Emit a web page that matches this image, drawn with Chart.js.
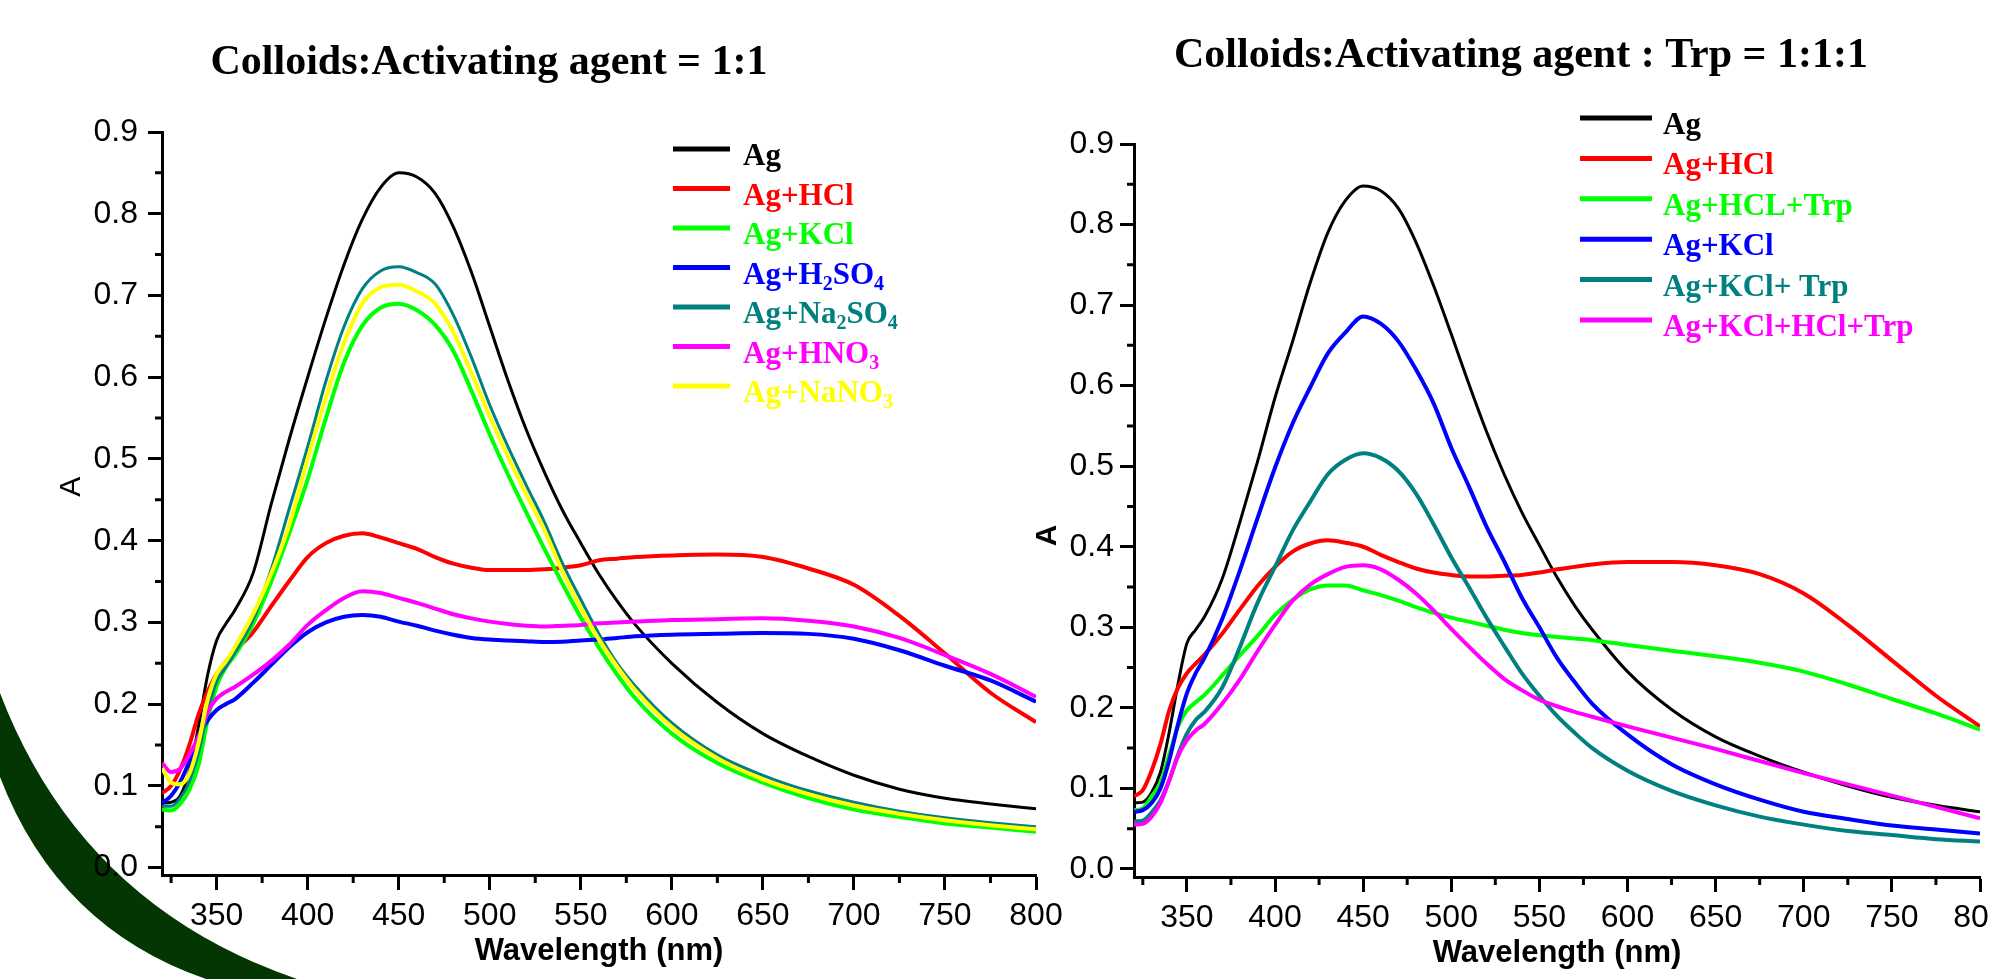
<!DOCTYPE html>
<html>
<head>
<meta charset="utf-8">
<script src="https://cdn.jsdelivr.net/npm/chart.js@4.4.1/dist/chart.umd.min.js"></script>
<style>
  html, body { margin: 0; padding: 0; background: #fff; }
  body { width: 1990px; height: 979px; overflow: hidden; position: relative; }
  #arc { position: absolute; left: 0; top: 0; }
  canvas { position: absolute; top: 0; }
  #left { left: 0; }
  #right { left: 1000px; }
</style>
</head>
<body>
<svg id="arc" width="400" height="979" viewBox="0 0 400 979">
  <path d="M0 693 Q81 905 297 979 L206 979 Q58 928 0 777 Z" fill="#033603"/>
</svg>
<canvas id="left" width="1090" height="979"></canvas>
<canvas id="right" width="1060" height="979"></canvas>
<script>
// wavelengths (nm), shared by both panels
const wavelengths = [320, 325, 330, 335, 340, 345, 350, 355, 360,
  370, 380, 390, 400, 410, 420, 430, 440, 450, 460, 470, 480, 490, 500,
  510, 520, 530, 540, 550, 560, 570, 580,
  600, 625, 650, 675, 700, 725, 750, 775, 800];

const xTicks = [350, 400, 450, 500, 550, 600, 650, 700, 750, 800];
const xMinorTicks = [325, 375, 425, 475, 525, 575, 625, 675, 725, 775];
const yTicks = [0, 0.1, 0.2, 0.3, 0.4, 0.5, 0.6, 0.7, 0.8, 0.9];
const yMinorTicks = [0.05, 0.15, 0.25, 0.35, 0.45, 0.55, 0.65, 0.75, 0.85];

// left panel: Colloids:Activating agent = 1:1
const leftTitle = 'Colloids:Activating agent = 1:1';
const leftLabels = ['Ag', 'Ag+HCl', 'Ag+KCl', 'Ag+H₂SO₄', 'Ag+Na₂SO₄', 'Ag+HNO₃', 'Ag+NaNO₃'];
const leftColors = ['#000000', '#ff0000', '#00ff00', '#0000ff', '#008080', '#ff00ff', '#ffff00'];
const agL = [.079, .080, .088, .118, .172, .235, .278, .298, .315,
  .360, .445, .525, .600, .672, .738, .793, .832, .850, .845, .825, .784, .728, .662,
  .596, .536, .484, .437, .397, .359, .326, .297,
  .250, .202, .164, .136, .113, .096, .085, .078, .072];
const hclL = [.091, .100, .120, .150, .187, .215, .237, .252, .265,
  .288, .320, .351, .380, .397, .406, .409, .404, .397, .390, .380, .372, .367, .364,
  .364, .364, .365, .367, .370, .376, .378, .380,
  .382, .383, .380, .366, .346, .308, .262, .214, .178];
const kclL = [.071, .070, .078, .095, .125, .180, .222, .245, .260,
  .298, .350, .410, .475, .550, .618, .663, .685, .690, .682, .664, .632, .583, .530,
  .481, .435, .390, .347, .306, .269, .236, .207,
  .164, .128, .104, .085, .071, .062, .054, .049, .044];
const h2so4L = [.079, .088, .105, .130, .160, .180, .193, .200, .206,
  .226, .248, .270, .288, .300, .307, .309, .307, .301, .296, .290, .285, .281, .279,
  .278, .277, .276, .2765, .278, .279, .281, .283,
  .285, .286, .287, .286, .280, .266, .247, .229, .203];
const na2so4L = [.075, .075, .085, .105, .140, .190, .228, .245, .263,
  .303, .365, .440, .515, .595, .662, .708, .730, .735, .728, .714, .676, .624, .566,
  .515, .468, .423, .372, .328, .286, .250, .222,
  .177, .138, .113, .094, .080, .069, .061, .055, .050];
const hno3L = [.128, .117, .121, .138, .160, .190, .207, .215, .221,
  .236, .253, .273, .297, .315, .330, .338, .336, .330, .324, .317, .310, .305, .301,
  .298, .296, .295, .296, .297, .299, .300, .301,
  .303, .304, .305, .302, .295, .281, .260, .237, .209];
const nano3L = [.122, .104, .102, .115, .152, .205, .237, .252, .270,
  .310, .360, .420, .500, .575, .642, .690, .710, .713, .705, .690, .655, .605, .552,
  .503, .457, .413, .362, .318, .279, .246, .217,
  .172, .134, .108, .090, .076, .066, .058, .052, .047];

// right panel: Colloids:Activating agent : Trp = 1:1:1
const rightTitle = 'Colloids:Activating agent : Trp = 1:1:1';
const rightLabels = ['Ag', 'Ag+HCl', 'Ag+HCL+Trp', 'Ag+KCl', 'Ag+KCl+ Trp', 'Ag+KCl+HCl+Trp'];
const rightColors = ['#000000', '#ff0000', '#00ff00', '#0000ff', '#008080', '#ff00ff'];
const agR = [.082, .083, .095, .120, .170, .230, .280, .297, .313,
  .360, .430, .505, .585, .655, .728, .790, .830, .848, .842, .820, .778, .724, .664,
  .602, .543, .490, .443, .402, .362, .327, .297,
  .245, .198, .164, .140, .120, .103, .089, .079, .071];
const hclR = [.090, .098, .122, .155, .197, .225, .243, .255, .266,
  .292, .322, .351, .375, .394, .404, .408, .405, .400, .390, .381, .373, .368, .365,
  .363, .363, .364, .365, .368, .372, .375, .378,
  .381, .381, .377, .366, .342, .303, .259, .215, .177];
const hclTrpR = [.073, .075, .090, .107, .142, .177, .197, .207, .216,
  .240, .265, .289, .315, .334, .347, .352, .352, .346, .340, .333, .325, .318, .312,
  .307, .302, .297, .293, .290, .288, .286, .284,
  .278, .271, .264, .256, .245, .229, .211, .193, .173];
const kclR = [.071, .073, .082, .100, .135, .180, .218, .243, .262,
  .310, .370, .435, .498, .553, .598, .640, .666, .686, .677, .655, .620, .578, .523,
  .475, .425, .382, .337, .300, .262, .232, .205,
  .167, .130, .105, .086, .071, .062, .054, .049, .044];
const kclTrpR = [.059, .060, .070, .085, .110, .142, .168, .185, .195,
  .225, .275, .330, .375, .420, .456, .490, .508, .516, .510, .494, .466, .428, .387,
  .350, .312, .277, .243, .215, .190, .169, .150,
  .122, .097, .079, .065, .055, .047, .042, .037, .034];
const mixR = [.055, .056, .065, .082, .110, .140, .160, .172, .180,
  .205, .235, .270, .303, .333, .353, .366, .375, .377, .372, .359, .342, .321, .298,
  .276, .255, .236, .222, .210, .202, .195, .189,
  .177, .163, .149, .134, .119, .105, .091, .077, .063];

const SANS = '"Liberation Sans", Arial, sans-serif';
const SERIF = '"Liberation Serif", "Times New Roman", serif';
const SUBS = '₀₁₂₃₄₅₆₇₈₉';

// draws "Ag+H₂SO₄" with real lowered subscripts
function drawChem(ctx, text, x, y, size) {
    let cx = x;
    let run = '';
    let sub = false;
    const flush = () => {
        if (!run) return;
        ctx.font = `bold ${sub ? Math.round(size * 0.66) : size}px ${SERIF}`;
        ctx.fillText(run, cx, sub ? y + size * 0.2 : y);
        cx += ctx.measureText(run).width;
        run = '';
    };
    for (const ch of text) {
        const k = SUBS.indexOf(ch);
        const isSub = k >= 0;
        if (isSub !== sub) { flush(); sub = isSub; }
        run += isSub ? String(k) : ch;
    }
    flush();
}

const minorTicks = {
    id: 'minorTicks',
    afterDraw(chart) {
        const {ctx, scales: {x, y}} = chart;
        ctx.save();
        ctx.strokeStyle = '#000';
        ctx.lineWidth = 3;
        ctx.beginPath();
        xMinorTicks.forEach(v => {
            const px = x.getPixelForValue(v);
            ctx.moveTo(px, x.top);
            ctx.lineTo(px, x.top + 8);
        });
        yMinorTicks.forEach(v => {
            const py = y.getPixelForValue(v);
            ctx.moveTo(y.right - 7, py);
            ctx.lineTo(y.right, py);
        });
        ctx.stroke();
        ctx.restore();
    }
};

const panelTitle = {
    id: 'panelTitle',
    afterDraw(chart, args, o) {
        const ctx = chart.ctx;
        ctx.save();
        ctx.font = `bold 42px ${SERIF}`;
        ctx.fillStyle = '#000';
        ctx.textAlign = 'center';
        ctx.textBaseline = 'alphabetic';
        ctx.fillText(o.text, o.x, o.y);
        ctx.restore();
    }
};

const sideLegend = {
    id: 'sideLegend',
    afterDraw(chart, args, o) {
        const ctx = chart.ctx;
        chart.data.datasets.forEach((ds, i) => {
            const y = o.top + i * o.gap;
            ctx.save();
            ctx.strokeStyle = ds.borderColor;
            ctx.lineWidth = 5;
            ctx.beginPath();
            ctx.moveTo(o.lineX, y);
            ctx.lineTo(o.lineX + o.lineLen, y);
            ctx.stroke();
            ctx.fillStyle = ds.borderColor;
            ctx.textAlign = 'left';
            ctx.textBaseline = 'alphabetic';
            drawChem(ctx, ds.label, o.textX, y + 16, 31);
            ctx.restore();
        });
    }
};

function makePanel(id, labels, colors, series, p) {
    const n = series.length;
    const datasets = series.map((ys, i) => ({
        label: labels[i],
        data: wavelengths.map((x, j) => ({x: x, y: ys[j]})),
        borderColor: colors[i],
        borderWidth: p.widths[i],
        pointRadius: 0,
        cubicInterpolationMode: 'monotone',
        borderJoinStyle: 'round',
        order: n - i
    }));

    new Chart(document.getElementById(id), {
        type: 'line',
        data: {datasets},
        plugins: [minorTicks, panelTitle, sideLegend],
        options: {
            responsive: false,
            animation: false,
            events: [],
            devicePixelRatio: 1,
            layout: {padding: p.padding},
            scales: {
                x: {
                    type: 'linear',
                    min: 320,
                    max: 800,
                    afterBuildTicks: (axis) => { axis.ticks = xTicks.map(v => ({value: v})); },
                    afterFit: (axis) => { axis.height = 100; },
                    ticks: {
                        color: '#000',
                        font: {family: SANS, size: 32},
                        padding: 7,
                        autoSkip: false,
                        maxRotation: 0,
                        callback: (v) => String(v)
                    },
                    grid: {drawOnChartArea: false, tickLength: 15, tickWidth: 3, tickColor: '#000'},
                    border: {display: true, color: '#000', width: 3},
                    title: {
                        display: true,
                        text: 'Wavelength (nm)',
                        color: '#000',
                        font: {family: SANS, size: 31, weight: 'bold'},
                        padding: {top: 0, bottom: 5}
                    }
                },
                y: {
                    min: p.yMin,
                    max: 0.9,
                    afterBuildTicks: (axis) => { axis.ticks = yTicks.map(v => ({value: v})); },
                    afterFit: (axis) => { axis.width = p.yWidth; },
                    ticks: {
                        color: '#000',
                        font: {family: SANS, size: 32},
                        padding: p.yPad,
                        callback: (v) => v.toFixed(1)
                    },
                    grid: {drawOnChartArea: false, tickLength: 14, tickWidth: 3, tickColor: '#000'},
                    border: {display: true, color: '#000', width: 3},
                    title: {
                        display: true,
                        // padding spaces nudge the rotated "A" along the axis as in the original
                        text: p.aText,
                        color: '#000',
                        font: {family: SANS, size: 30, weight: p.aWeight},
                        padding: {top: 4, bottom: 4}
                    }
                }
            },
            plugins: {
                legend: {display: false},
                tooltip: {enabled: false},
                panelTitle: p.title,
                sideLegend: p.legend
            }
        }
    });
}

makePanel('left', leftLabels, leftColors,
    [agL, hclL, kclL, h2so4L, na2so4L, hno3L, nano3L], {
        widths: [3, 4, 4, 4, 3, 4, 4],
        padding: {left: 50, top: 132, right: 54, bottom: 4},
        yWidth: 112,
        yPad: 10,
        yMin: -0.009,
        aText: '    A',
        aWeight: 'normal',
        title: {text: leftTitle, x: 489, y: 74},
        legend: {lineX: 673, lineLen: 57, textX: 743, top: 149, gap: 39.5}
    });

makePanel('right', rightLabels, rightColors,
    [agR, hclR, hclTrpR, kclR, kclTrpR, mixR], {
        widths: [3, 4, 4, 4, 4, 4],
        padding: {left: 26, top: 144, right: 80, bottom: 2},
        yWidth: 108,
        yPad: 6,
        yMin: -0.01,
        aText: 'A      ',
        aWeight: 'bold',
        title: {text: rightTitle, x: 521, y: 67},
        legend: {lineX: 580, lineLen: 72, textX: 663, top: 118, gap: 40.4}
    });
</script>
</body>
</html>
